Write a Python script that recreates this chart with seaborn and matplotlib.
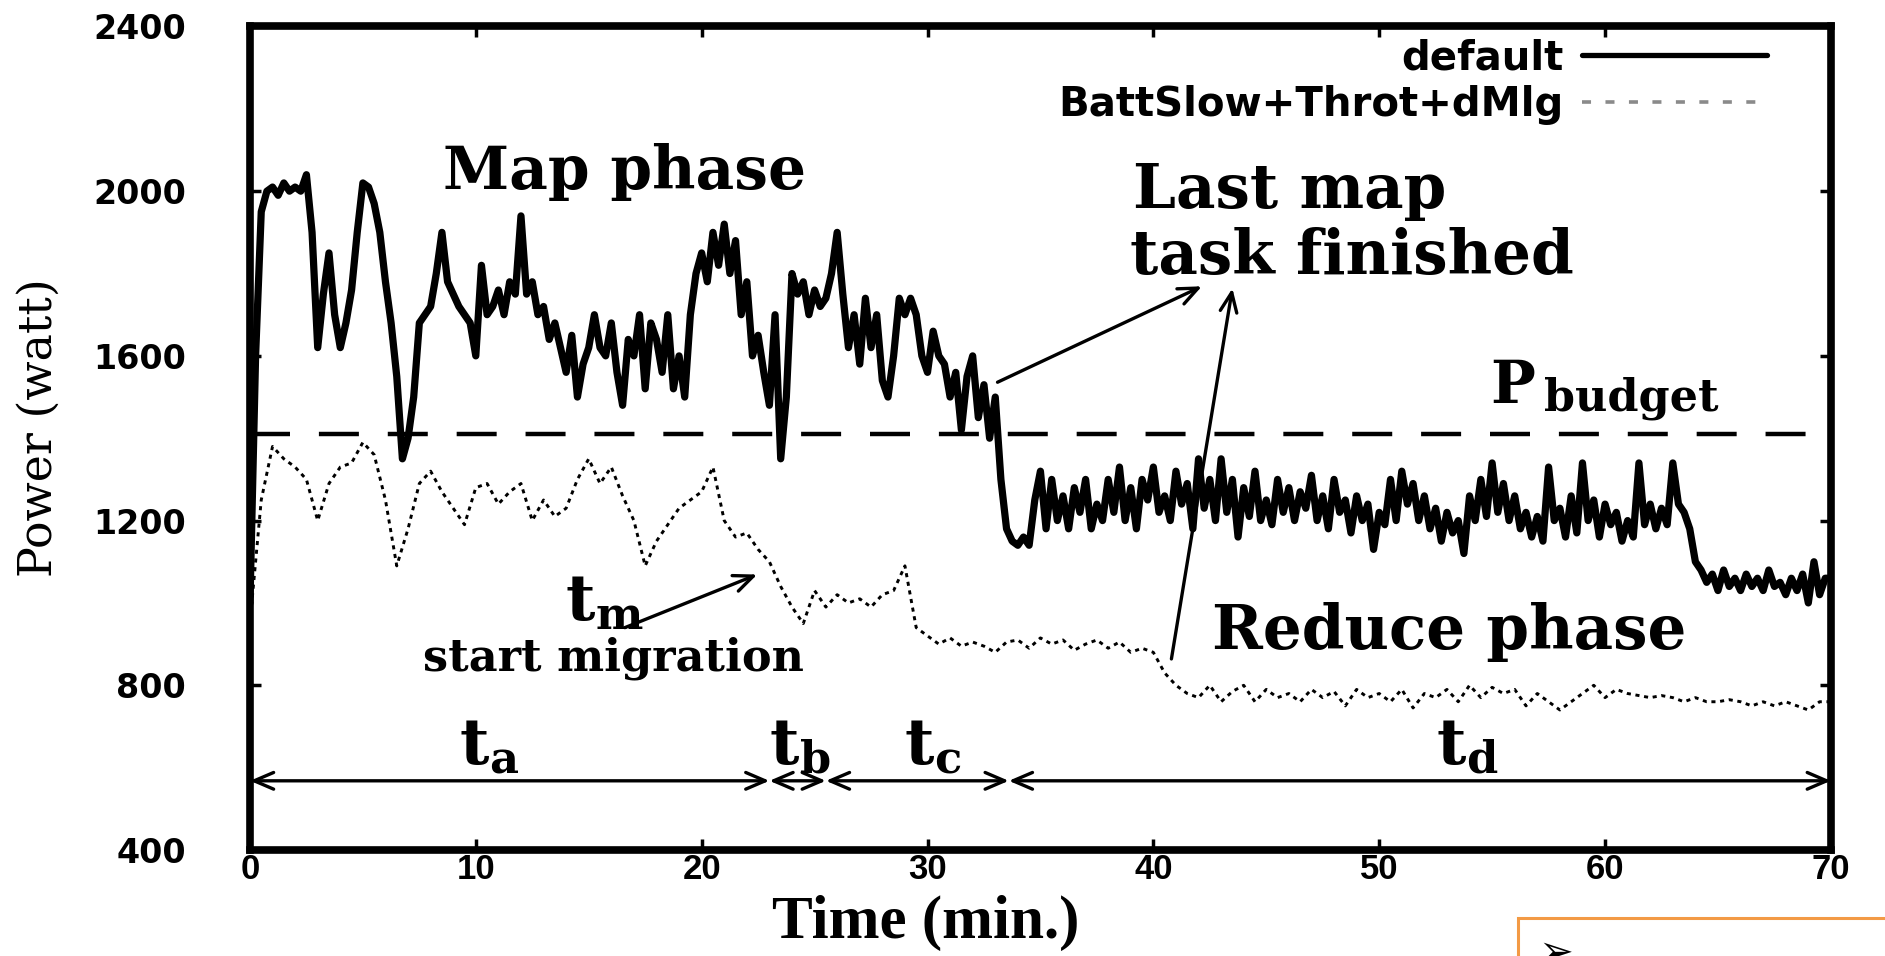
import numpy as np
import pandas as pd
import matplotlib
matplotlib.use("Agg")
import matplotlib.pyplot as plt
import seaborn as sns
from matplotlib.patches import Rectangle
from matplotlib.lines import Line2D

# ---------------- data ----------------
default_step = 0.25  # minutes between samples
default_power = [
    1000, 1600, 1950, 2000, 2010, 1990, 2020, 2000, 2010, 2000, 2040, 1900, 1620, 1750, 1850, 1700, 1620, 1680, 1760, 1900,
    2020, 2010, 1970, 1900, 1780, 1680, 1550, 1350, 1400, 1500, 1680, 1700, 1720, 1800, 1900, 1780, 1750, 1720, 1700, 1680,
    1600, 1820, 1700, 1720, 1760, 1700, 1780, 1750, 1940, 1750, 1780, 1700, 1720, 1640, 1680, 1620, 1560, 1650, 1500, 1580,
    1620, 1700, 1620, 1600, 1680, 1560, 1480, 1640, 1600, 1700, 1520, 1680, 1640, 1560, 1700, 1520, 1600, 1500, 1700, 1800,
    1850, 1780, 1900, 1820, 1920, 1800, 1880, 1700, 1780, 1600, 1650, 1560, 1480, 1700, 1350, 1500, 1800, 1750, 1780, 1700,
    1760, 1720, 1740, 1800, 1900, 1750, 1620, 1700, 1580, 1740, 1620, 1700, 1540, 1500, 1600, 1740, 1700, 1740, 1700, 1600,
    1560, 1660, 1600, 1580, 1500, 1560, 1420, 1550, 1600, 1450, 1530, 1400, 1500, 1300, 1180, 1150, 1140, 1160, 1140, 1250,
    1320, 1180, 1300, 1200, 1260, 1180, 1280, 1220, 1300, 1180, 1240, 1200, 1300, 1220, 1330, 1200, 1280, 1180, 1300, 1250,
    1330, 1220, 1260, 1200, 1320, 1240, 1290, 1180, 1350, 1230, 1300, 1200, 1350, 1220, 1300, 1160, 1280, 1210, 1320, 1200,
    1250, 1190, 1300, 1220, 1280, 1200, 1270, 1230, 1310, 1200, 1260, 1180, 1300, 1220, 1250, 1170, 1260, 1200, 1240, 1130,
    1220, 1190, 1300, 1200, 1320, 1240, 1290, 1200, 1260, 1180, 1230, 1150, 1220, 1170, 1200, 1120, 1260, 1200, 1300, 1210,
    1340, 1220, 1290, 1200, 1260, 1180, 1220, 1160, 1210, 1150, 1330, 1200, 1230, 1160, 1260, 1170, 1340, 1200, 1250, 1160,
    1240, 1190, 1220, 1150, 1200, 1160, 1340, 1190, 1240, 1180, 1230, 1190, 1340, 1240, 1220, 1180, 1100, 1080, 1050, 1070,
    1030, 1080, 1040, 1060, 1030, 1070, 1040, 1060, 1030, 1080, 1040, 1050, 1020, 1060, 1030, 1070, 1000, 1100, 1020, 1060,
    1060,
]

batt_step = 0.5
batt_power = [
    950, 1250, 1380, 1350, 1330, 1300, 1200, 1290, 1330, 1340, 1390, 1360, 1250, 1090, 1180, 1290, 1320, 1270, 1230, 1190,
    1280, 1290, 1240, 1270, 1290, 1200, 1250, 1210, 1230, 1300, 1350, 1290, 1330, 1260, 1200, 1090, 1150, 1190, 1230, 1250,
    1270, 1330, 1200, 1160, 1170, 1130, 1100, 1040, 990, 950, 1030, 990, 1020, 1000, 1010, 990, 1020, 1030, 1090, 940,
    920, 900, 915, 895, 905, 895, 880, 905, 910, 890, 915, 900, 910, 885, 900, 910, 890, 905, 880, 890,
    880, 830, 800, 780, 770, 800, 760, 785, 800, 760, 790, 770, 780, 760, 790, 770, 785, 750, 790, 770,
    780, 760, 790, 745, 780, 770, 790, 760, 800, 770, 795, 780, 790, 750, 780, 760, 740, 760, 780, 800,
    770, 790, 780, 775, 770, 775, 770, 760, 770, 760, 760, 765, 760, 750, 760, 750, 760, 750, 740, 760,
    760,
]

series_labels = ["default", "BattSlow+Throt+dMlg"]
p_budget = 1410
x_ticks = [0, 10, 20, 30, 40, 50, 60, 70]
y_ticks = [400, 800, 1200, 1600, 2000, 2400]

# phase interval markers (minutes) and their labels
interval_edges = [0, 23.0, 25.5, 33.6, 70]
interval_labels = ["a", "b", "c", "d"]
interval_label_x = [9.25, 23.0, 28.95, 52.5]
interval_level = 568

# ---------------- style ----------------
sns.set_style("ticks")
plt.rcParams["font.family"] = ["DejaVu Sans"]
plt.rcParams["mathtext.fontset"] = "dejavuserif"
for key in ["text.color", "axes.labelcolor", "xtick.color", "ytick.color", "axes.edgecolor"]:
    plt.rcParams[key] = "black"

fig = plt.figure(figsize=(18.85, 9.56), dpi=100)
ax = fig.add_axes([0.1326, 0.1109, 0.8387, 0.8614])

df_def = pd.DataFrame({"Time": np.arange(len(default_power)) * default_step, "Power": default_power})
df_bat = pd.DataFrame({"Time": np.arange(len(batt_power)) * batt_step, "Power": batt_power})

sns.lineplot(data=df_def, x="Time", y="Power", ax=ax, color="black", lw=5.2,
             legend=False, errorbar=None, zorder=4)
sns.lineplot(data=df_bat, x="Time", y="Power", ax=ax, color="black", lw=2.1,
             linestyle=(0, (1.4, 1.6)), legend=False, errorbar=None, zorder=3)

ax.axhline(p_budget, color="black", lw=3.2, linestyle=(0, (9, 6.5)), zorder=2)

ax.set_xlim(0, 70)
ax.set_ylim(400, 2400)
ax.set_xticks(x_ticks)
ax.set_yticks(y_ticks)
ax.set_xticklabels([str(v) for v in x_ticks], family="Liberation Sans", weight="bold", fontsize=25)
ax.set_yticklabels([str(v) for v in y_ticks], family="DejaVu Sans", weight="bold", fontsize=24)
ax.tick_params(axis="both", direction="in", length=8, width=2.5, top=True, right=True, color="black")
ax.tick_params(axis="y", pad=46)
ax.tick_params(axis="x", pad=2)
for sp in ax.spines.values():
    sp.set_linewidth(5.5)
    sp.set_color("black")

ax.set_xlabel("Time (min.)", family="Liberation Serif", weight="bold", fontsize=44, va="baseline")
ax.xaxis.set_label_coords(0.4276, -0.107)
ax.set_ylabel("Power (watt)", family="DejaVu Serif", fontsize=33)
ax.yaxis.set_label_coords(-0.119, 0.513)

# legend
handles = [Line2D([0], [0], color="black", lw=3.8),
           Line2D([0], [0], color="#8a8a8a", lw=2.6, linestyle=(0, (2.5, 4.0)))]
ax.legend(handles, series_labels, loc="upper right", bbox_to_anchor=(0.9595, 0.986),
          markerfirst=False, frameon=False, handlelength=4.6, handletextpad=0.45,
          labelspacing=0.18, borderpad=0, borderaxespad=0,
          prop={"family": "DejaVu Sans", "weight": "bold", "size": 29})

# annotations
serif_b = dict(family="DejaVu Serif", weight="bold", color="black")
ax.text(16.6, 2005, "Map phase", ha="center", va="baseline", fontsize=43, **serif_b)
ax.text(39.1, 1960, "Last map", ha="left", va="baseline", fontsize=44, **serif_b)
ax.text(38.95, 1800, "task finished", ha="left", va="baseline", fontsize=44, **serif_b)
ax.text(54.9, 1486, "P", ha="left", va="baseline", fontsize=43, **serif_b)
ax.text(57.3, 1467, "budget", ha="left", va="baseline", fontsize=32, **serif_b)
ax.text(42.6, 888, "Reduce phase", ha="left", va="baseline", fontsize=44, **serif_b)
ax.text(7.66, 835, "start migration", ha="left", va="baseline", fontsize=32, **serif_b)
ax.text(13.95, 959, r"$\mathbf{t}_{\mathbf{m}}$", ha="left", va="baseline", fontsize=46, color="black")

for lx, lab in zip(interval_label_x, interval_labels):
    ax.text(lx, 607, r"$\mathbf{t}_{\mathbf{%s}}$" % lab, ha="left", va="baseline", fontsize=46, color="black")

arrow_kw = dict(arrowstyle="<->,head_length=0.7,head_width=0.3", lw=2.4, color="black",
                shrinkA=0, shrinkB=0, mutation_scale=20)
for a, b in zip(interval_edges[:-1], interval_edges[1:]):
    ax.annotate("", xy=(b, interval_level), xytext=(a, interval_level), arrowprops=arrow_kw)

one_kw = dict(arrowstyle="->,head_length=0.7,head_width=0.3", lw=2.4, color="black",
              shrinkA=0, shrinkB=0, mutation_scale=20)
ax.annotate("", xy=(42.15, 1769), xytext=(33.1, 1536), arrowprops=one_kw)
ax.annotate("", xy=(43.5, 1764), xytext=(40.8, 864), arrowprops=one_kw)
ax.annotate("", xy=(22.46, 1069), xytext=(16.6, 940), arrowprops=one_kw)

# cropped orange box at the bottom right corner of the picture
fig.patches.append(Rectangle((1518 / 1885, -0.1), 0.5, 0.1 + 38 / 956, transform=fig.transFigure,
                             fill=False, edgecolor="#F39A45", lw=2.2, zorder=5))
fig.text(1538 / 1885, 24 / 956, "➢", ha="left", va="top", fontsize=30, family="DejaVu Sans", color="black")

fig.savefig("out.png", dpi=100)
